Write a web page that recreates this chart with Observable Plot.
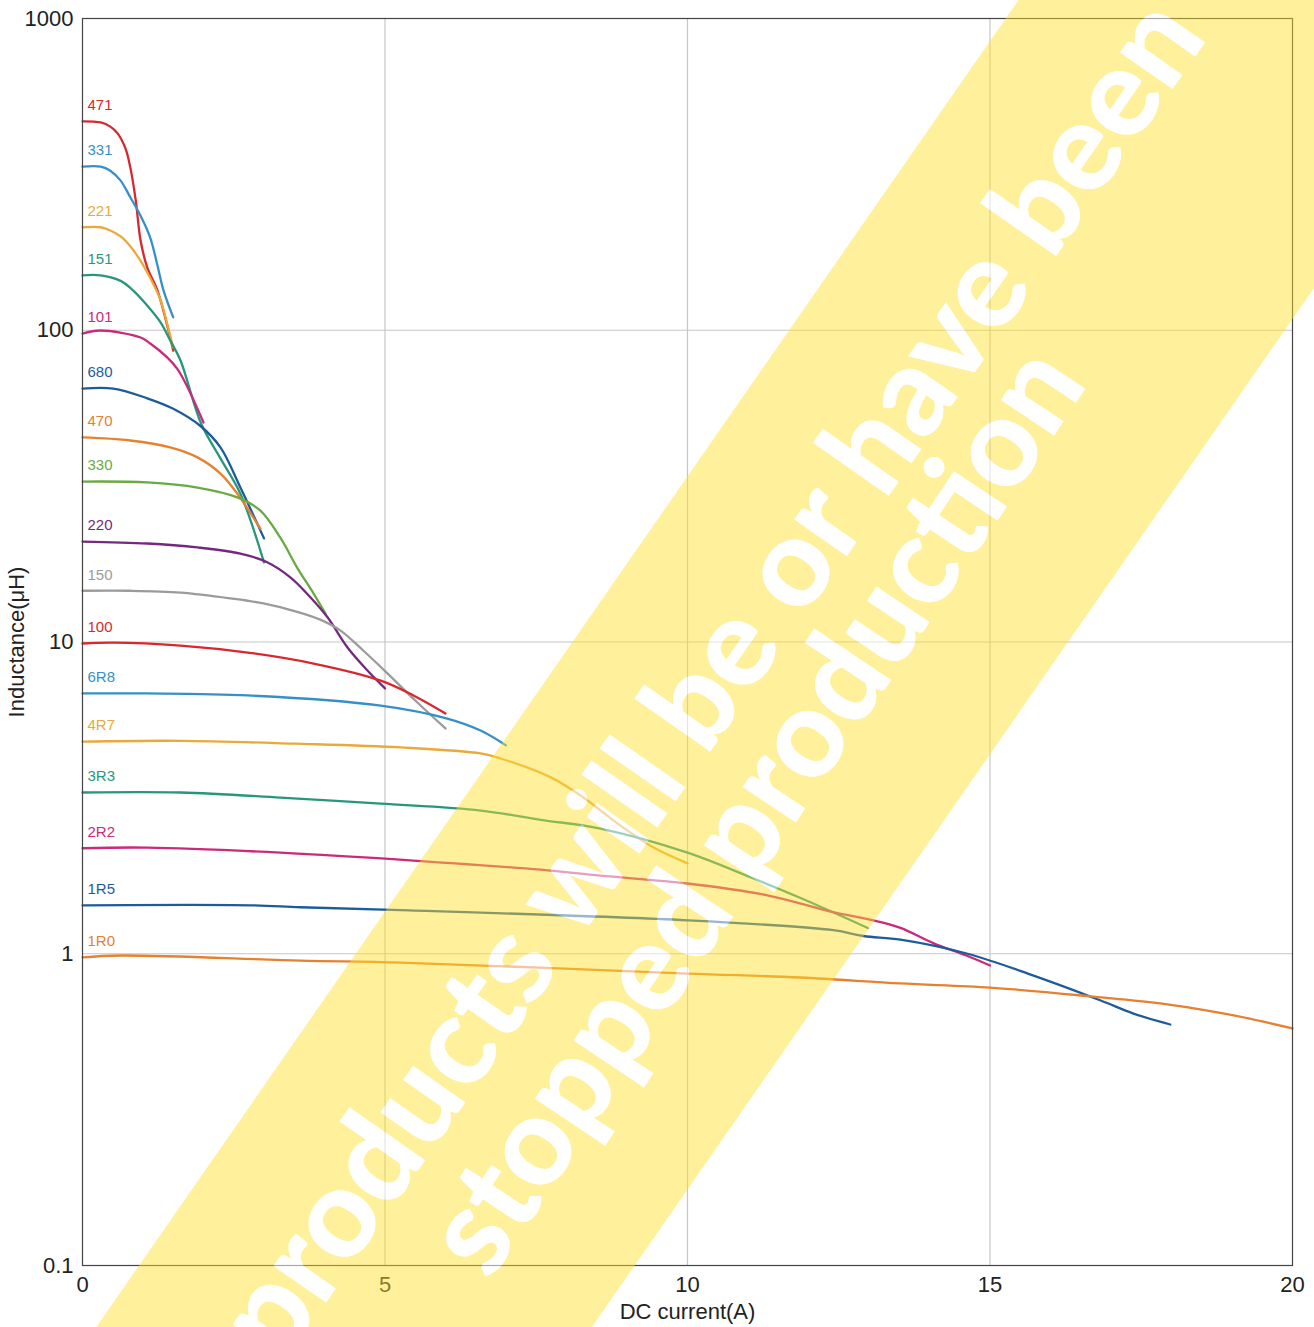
<!DOCTYPE html>
<html>
<head>
<meta charset="utf-8">
<script src="https://cdn.jsdelivr.net/npm/d3@7"></script>
<script src="https://cdn.jsdelivr.net/npm/@observablehq/plot@0.6"></script>
<style>
  html, body { margin: 0; padding: 0; background: #fff; }
  #wrap { position: relative; width: 1314px; height: 1327px; }
</style>
</head>
<body>
<div id="wrap"></div>
<script>
// ---- data ----
const seriesNames = ["471","331","221","151","101","680","470","330","220","150","100","6R8","4R7","3R3","2R2","1R5","1R0"];
const seriesColors = ["#d7282f","#3690c8","#eaa93b","#27977b","#c92a7c","#1e5b9c","#e5812f","#6aaa43","#75287f","#9b9b9b","#d7282f","#3690c8","#eaa93b","#27977b","#c92a7c","#1e5b9c","#e5812f"];

const c471 = [[0,468],[0.3,464],[0.46,450],[0.58,428],[0.71,383],[0.79,333],[0.88,261],[0.96,194],[1.07,159],[1.24,134],[1.42,100],[1.5,86]];
const c331 = [[0,335],[0.3,335],[0.46,325],[0.63,302],[0.79,267],[0.96,233],[1.12,198],[1.24,161],[1.34,134],[1.5,110]];
const c221 = [[0,214],[0.3,214],[0.46,209],[0.63,200],[0.79,186],[0.96,167],[1.12,147],[1.29,125],[1.45,96],[1.5,88]];
const c151 = [[0,150],[0.3,150],[0.63,144],[0.84,134],[1.07,120],[1.29,106],[1.45,92.7],[1.62,80],[1.96,50.2],[2.28,38.8],[2.61,29.9],[3.0,18.0]];
const c101 = [[0,97.6],[0.3,99.8],[0.96,94.8],[1.12,90.7],[1.4,81.8],[1.57,75],[1.73,66],[2.0,50.6]];
const c680 = [[0,65],[0.51,65],[1.07,60.5],[1.5,56],[1.95,49.3],[2.28,42.1],[2.61,31.3],[3.0,21.5]];
const c470 = [[0,45.3],[0.79,44.3],[1.45,42.1],[1.9,39.1],[2.28,34.7],[2.56,29.9],[2.94,23.1]];
const c330 = [[0,32.7],[1.07,32.5],[1.9,31.3],[2.56,29.1],[2.94,26.4],[3.27,21.6],[3.55,17.3],[3.82,14.3],[4.02,12.3]];
const c220 = [[0,21],[1.07,20.7],[1.9,20.1],[2.61,19.2],[3.06,18],[3.44,16.1],[3.77,13.9],[4.05,12],[4.38,9.6],[4.71,8.1],[5.0,7.1]];
const c150 = [[0,14.6],[0.79,14.6],[1.62,14.4],[2.45,13.8],[2.99,13.3],[3.55,12.5],[3.93,11.8],[4.26,10.9],[4.64,9.39],[5.04,7.93],[5.5,6.49],[6.0,5.28]];
const c100 = [[0,9.89],[0.51,9.96],[1.62,9.74],[2.73,9.25],[3.82,8.53],[4.93,7.52],[5.47,6.74],[6.0,5.9]];
const c6R8 = [[0,6.84],[1.07,6.84],[2.73,6.74],[4.93,6.25],[6.03,5.68],[6.58,5.2],[7.0,4.66]];
const c4R7 = [[0,4.79],[1.62,4.82],[3.5,4.72],[5.26,4.59],[6.58,4.39],[6.91,4.23],[7.74,3.68],[8.28,3.17],[8.84,2.62],[9.44,2.19],[10.0,1.95]];
const c3R3 = [[0,3.29],[1.62,3.29],[3.27,3.17],[4.93,3.03],[6.58,2.88],[7.57,2.69],[8.56,2.52],[10.0,2.11],[11.04,1.76],[11.87,1.51],[12.98,1.21]];
const c2R2 = [[0,2.18],[1.07,2.19],[3.27,2.11],[5.47,1.99],[7.57,1.86],[8.56,1.78],[10,1.68],[11.32,1.54],[12.41,1.36],[13.07,1.28],[13.52,1.21],[14.07,1.08],[14.61,0.987],[15,0.917]];
const c1R5 = [[0,1.43],[2.78,1.43],[3.6,1.41],[5.26,1.38],[10,1.28],[12.41,1.19],[12.91,1.14],[13.52,1.11],[14.63,1.0],[15.72,0.851],[16.83,0.708],[17.37,0.643],[17.98,0.593]];
const c1R0 = [[0,0.973],[0.63,0.987],[3.6,0.951],[5.26,0.937],[10,0.864],[11.87,0.839],[13.52,0.803],[15,0.779],[16.66,0.73],[17.93,0.688],[19.03,0.634],[20,0.576]];

const seriesData = [c471,c331,c221,c151,c101,c680,c470,c330,c220,c150,c100,c6R8,c4R7,c3R3,c2R2,c1R5,c1R0];

const xTicks = [0, 5, 10, 15, 20];
const yTicks = [0.1, 1, 10, 100, 1000];
const xTitle = "DC current(A)";
const yTitle = "Inductance(μH)";
const watermarkLines = ["products will be or have been", "stopped production"];

// ---- tables built from the arrays ----
const rows = seriesNames.flatMap((name, i) => seriesData[i].map(([x, y]) => ({name, x, y})));
const labelRows = seriesNames.map((name, i) => ({name, x: seriesData[i][0][0], y: seriesData[i][0][1]}));

const chart = Plot.plot({
  width: 1314,
  height: 1327,
  marginLeft: 82,
  marginRight: 22,
  marginTop: 18,
  marginBottom: 62,
  style: {fontFamily: "'Liberation Sans', Arial, Helvetica, sans-serif", fontSize: "22px", color: "#222", background: "#fff"},
  x: {domain: [0, 20]},
  y: {type: "log", domain: [0.1, 1000]},
  color: {domain: seriesNames, range: seriesColors},
  marks: [
    Plot.gridX(xTicks.slice(1, -1), {stroke: "#c6c6c6", strokeOpacity: 1, strokeWidth: 1.2}),
    Plot.gridY(yTicks.slice(1, -1), {stroke: "#c6c6c6", strokeOpacity: 1, strokeWidth: 1.2}),
    Plot.line(rows, {x: "x", y: "y", z: "name", stroke: "name", curve: "catmull-rom", strokeWidth: 2.3}),
    Plot.text(labelRows, {x: "x", y: "y", text: "name", fill: "name", dx: 5, dy: -16, textAnchor: "start", fontSize: 15}),
    Plot.frame({stroke: "#444", strokeWidth: 1.2}),
    Plot.axisX(xTicks, {tickSize: 0, tickPadding: 11, label: xTitle, labelAnchor: "center", labelOffset: 53, labelArrow: "none"}),
    Plot.axisY(yTicks, {tickSize: 0, tickPadding: 9, tickFormat: d => String(d), label: yTitle, labelAnchor: "center", labelOffset: 74, labelArrow: "none"})
  ]
});

const wrap = document.getElementById("wrap");
wrap.appendChild(chart);

// ---- "discontinued" watermark overlay ----
const ov = d3.select(wrap).append("svg")
  .attr("width", 1314).attr("height", 1327)
  .style("position", "absolute").style("left", "0px").style("top", "0px")
  .style("pointer-events", "none");

const defs = ov.append("defs");
const mask = defs.append("mask").attr("id", "wm-mask")
  .attr("maskUnits", "userSpaceOnUse").attr("x", 0).attr("y", 0).attr("width", 1314).attr("height", 1327);
mask.append("rect").attr("width", 1314).attr("height", 1327).attr("fill", "white");

function addText(sel, fill) {
  const g = sel.append("g");
  const specs = [
    {angle: 55.1, x: -66, y: -27, len: 1621},
    {angle: 56.3, x: -150, y: 81, len: 1080}
  ];
  watermarkLines.forEach((t, i) => {
    g.append("text")
      .attr("transform", `translate(805,663) rotate(${-specs[i].angle})`)
      .attr("x", specs[i].x).attr("y", specs[i].y)
      .attr("text-anchor", "middle")
      .attr("textLength", specs[i].len)
      .attr("lengthAdjust", "spacingAndGlyphs")
      .attr("font-family", "Lato, 'Open Sans', sans-serif")
      .attr("font-weight", 900)
      .attr("font-size", 124)
      .attr("fill", fill)
      .text(t);
  });
  return g;
}
addText(mask, "black");

ov.append("g").attr("mask", "url(#wm-mask)")
  .append("g").attr("transform", "translate(805,663) rotate(-55.2)")
  .append("rect").attr("x", -1400).attr("y", -203).attr("width", 2800).attr("height", 407)
  .attr("fill", "#ffdf2a").attr("fill-opacity", 0.47);

addText(ov, "white").attr("opacity", 0.55);
</script>
</body>
</html>
